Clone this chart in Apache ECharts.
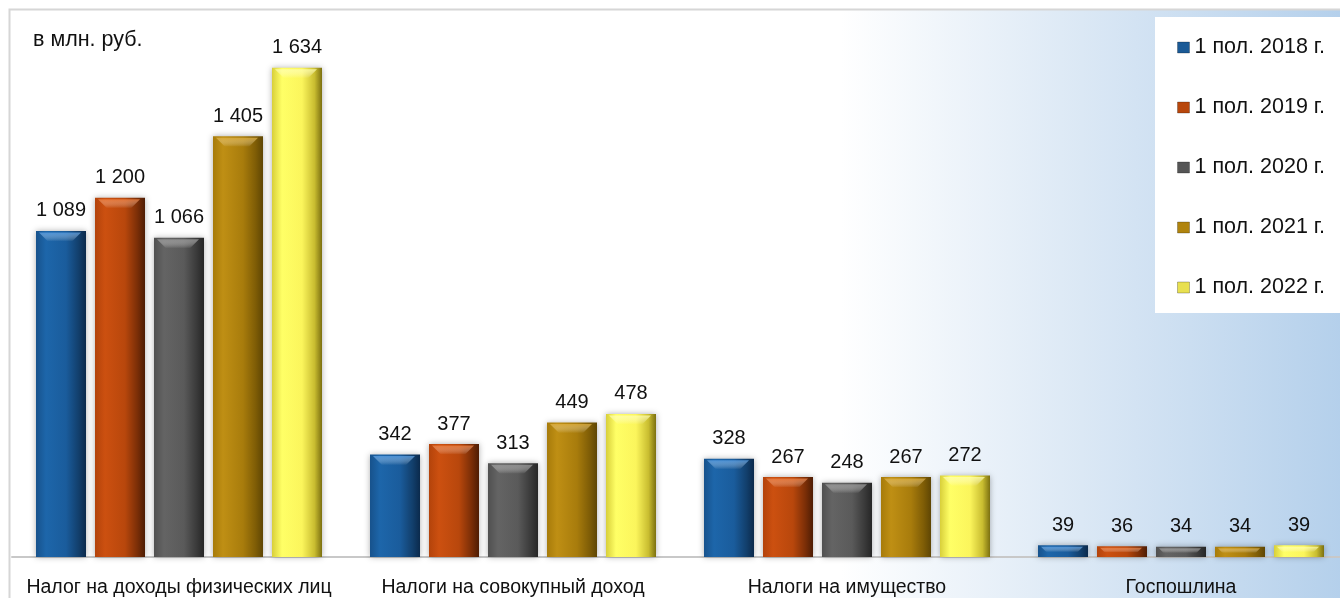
<!DOCTYPE html>
<html>
<head>
<meta charset="utf-8">
<script src="https://cdn.jsdelivr.net/npm/echarts@6/dist/echarts.min.js"></script>
<style>
html,body{margin:0;padding:0;background:#fff;}
#chart{width:1340px;height:598px;}
</style>
</head>
<body>
<div id="chart"></div>
<script>
var categories = ['Налог на доходы физических лиц', 'Налоги на совокупный доход', 'Налоги на имущество', 'Госпошлина'];
var seriesNames = ['1 пол. 2018 г.', '1 пол. 2019 г.', '1 пол. 2020 г.', '1 пол. 2021 г.', '1 пол. 2022 г.'];
var values2018 = [1089, 342, 328, 39];
var values2019 = [1200, 377, 267, 36];
var values2020 = [1066, 313, 248, 34];
var values2021 = [1405, 449, 267, 34];
var values2022 = [1634, 478, 272, 39];
var unitText = 'в млн. руб.';

var FONT = "'Liberation Sans', Arial, sans-serif";
var BAR_W = 50, BAR_GAP = '18%';

function grad(stops) {
  return new echarts.graphic.LinearGradient(0, 0, 1, 0, stops.map(function (c) {
    return { offset: c[0], color: c[1] };
  }));
}
var colors = [
  grad([[0, '#17528c'], [0.2, '#1d66aa'], [0.6, '#1a5c9c'], [0.85, '#123f6c'], [1, '#0b2a4c']]),
  grad([[0, '#b3430b'], [0.2, '#cc5010'], [0.6, '#b8470c'], [0.85, '#7a2e07'], [1, '#4e1d04']]),
  grad([[0, '#505050'], [0.2, '#646464'], [0.6, '#5a5a5a'], [0.85, '#3a3a3a'], [1, '#262626']]),
  grad([[0, '#a77b0a'], [0.2, '#bf8f14'], [0.6, '#a87c0c'], [0.85, '#7f5d06'], [1, '#5f4604']]),
  grad([[0, '#d8cf3a'], [0.2, '#ffff66'], [0.6, '#fbf55c'], [0.85, '#c9bd30'], [1, '#7c7010']])
];
var highlightColors = ['#5aa0e6', '#f08040', '#9a9a9a', '#e0b040', '#ffffb0'];
var legendColors = ['#1b5a96', '#b8470c', '#555555', '#b0840e', '#e8e050'];
var allValues = [values2018, values2019, values2020, values2021, values2022];

function fmt(v) {
  return String(v).replace(/\B(?=(\d{3})+(?!\d))/g, ' ');
}

var chart = echarts.init(document.getElementById('chart'), null, { renderer: 'canvas' });
var series = seriesNames.map(function (name, i) {
  return {
    name: name,
    type: 'bar',
    data: allValues[i],
    barWidth: BAR_W,
    barGap: BAR_GAP,
    itemStyle: {
      color: colors[i],
      shadowColor: 'rgba(0,0,0,0.32)',
      shadowBlur: 6,
      shadowOffsetX: 0,
      shadowOffsetY: 0
    },
    label: {
      show: true,
      position: 'top',
      distance: 10,
      color: '#111',
      fontFamily: FONT,
      fontSize: 20,
      formatter: function (p) { return fmt(p.value); }
    }
  };
});

// bevel highlight near the top of each bar (drawn through the axis scales)
var hlData = [];
allValues.forEach(function (arr, si) {
  arr.forEach(function (v, ci) { hlData.push([ci, v, si]); });
});
series.push({
  type: 'custom',
  name: '_hl',
  silent: true,
  z: 5,
  data: hlData,
  encode: { x: 0, y: 1 },
  renderItem: function (params, api) {
    var ci = api.value(0), v = api.value(1), si = api.value(2);
    var layout = api.barLayout({ count: seriesNames.length, barWidth: BAR_W, barGap: BAR_GAP });
    var top = api.coord([ci, v]);
    var base = api.coord([ci, 0]);
    var lay = layout[si];
    var l = top[0] + lay.offsetCenter - lay.width / 2;
    var r = l + lay.width;
    var t = top[1];
    var h = base[1] - t;
    var hh = Math.min(9, h * 0.45);
    var inset = Math.min(9, hh);
    return {
      type: 'polygon',
      shape: { points: [[l + 3, t + 1.5], [r - 5, t + 1.5], [r - 5 - inset, t + 1.5 + hh], [l + 3 + inset, t + 1.5 + hh]] },
      style: {
        fill: new echarts.graphic.LinearGradient(0, 0, 0, 1, [
          { offset: 0, color: highlightColors[si] },
          { offset: 1, color: 'rgba(255,255,255,0)' }
        ]),
        opacity: 0.75
      }
    };
  }
});

var option = {
  animation: false,
  backgroundColor: '#ffffff',
  graphic: [
    {
      type: 'rect', z: -10, silent: true,
      shape: { x: 9.5, y: 9.5, width: 1340, height: 600 },
      style: {
        fill: new echarts.graphic.LinearGradient(0, 0, 1, 0, [
          { offset: 0, color: '#ffffff' },
          { offset: 0.62, color: '#ffffff' },
          { offset: 0.8, color: '#dbe8f5' },
          { offset: 1, color: '#b3cfeb' }
        ]),
        stroke: '#d6d6d6', lineWidth: 2
      }
    },
    {
      type: 'rect', z: -5, silent: true,
      shape: { x: 1155, y: 17, width: 200, height: 296 },
      style: { fill: '#ffffff' }
    },
    {
      type: 'text', left: 33, top: 29, silent: true,
      style: { text: unitText, fontFamily: FONT, fontSize: 21.5, fill: '#111' }
    }
  ],
  legend: {
    orient: 'vertical',
    left: 1177,
    top: 36.5,
    padding: 0,
    itemGap: 38,
    itemWidth: 12,
    itemHeight: 11,
    icon: 'rect',
    textStyle: { fontFamily: FONT, fontSize: 21.5, color: '#111', lineHeight: 22 },
    data: seriesNames.map(function (n, i) {
      return { name: n, itemStyle: { color: legendColors[i], borderColor: 'rgba(0,0,0,0.25)', borderWidth: 1 } };
    })
  },
  grid: { left: 12, top: 48, width: 1336, bottom: 41, containLabel: false, outerBoundsMode: 'none' },
  xAxis: {
    type: 'category',
    data: categories,
    axisLine: { lineStyle: { color: '#c8c8c8', width: 2 } },
    axisTick: { show: false },
    axisLabel: { color: '#111', fontFamily: FONT, fontSize: 19.5, margin: 21, interval: 0, hideOverlap: false }
  },
  yAxis: {
    type: 'value', min: 0, max: 1700, show: false,
    splitLine: { show: false }
  },
  series: series
};
chart.setOption(option);
</script>
</body>
</html>
